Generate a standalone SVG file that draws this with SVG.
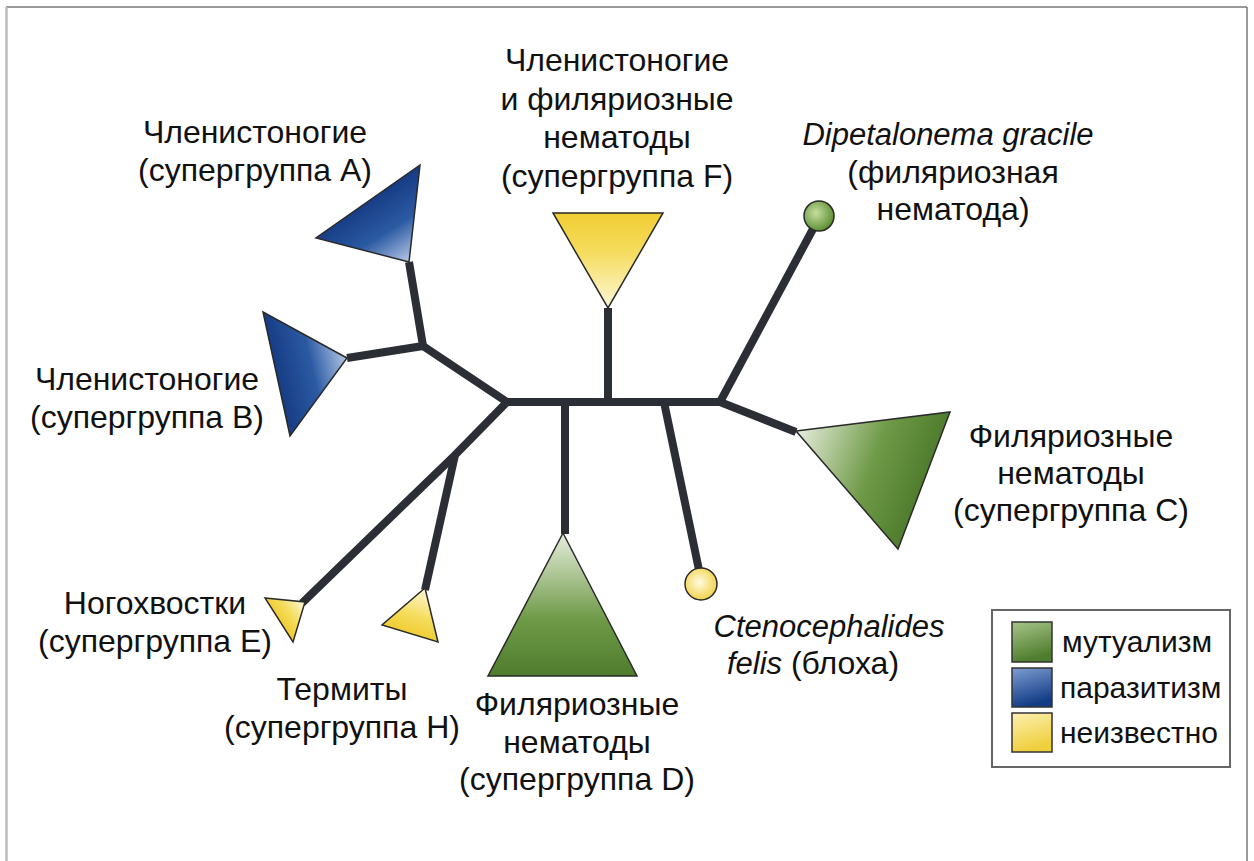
<svg xmlns="http://www.w3.org/2000/svg" width="1254" height="861" viewBox="0 0 1254 861">
<style>
.lbl{font-family:"Liberation Sans",Arial,sans-serif;font-size:32px;fill:#111;text-anchor:middle}
.leg{font-family:"Liberation Sans",Arial,sans-serif;font-size:30px;fill:#111}
.it{font-style:italic;font-size:31px}
.br{stroke:#2b2e35;stroke-width:8;fill:none;stroke-linejoin:round;stroke-linecap:butt}
.tri{stroke:#2a2a2a;stroke-width:1.5;stroke-linejoin:miter}
</style>
<defs>
<linearGradient id="gA" gradientUnits="userSpaceOnUse" x1="408" y1="262" x2="368" y2="200"><stop offset="0" stop-color="#b4c6e6"/><stop offset="0.5" stop-color="#2b5aa3"/><stop offset="1" stop-color="#163c84"/></linearGradient>
<linearGradient id="gB" gradientUnits="userSpaceOnUse" x1="347" y1="358" x2="276" y2="374"><stop offset="0" stop-color="#b4c6e6"/><stop offset="0.5" stop-color="#2b5aa3"/><stop offset="1" stop-color="#163c84"/></linearGradient>
<linearGradient id="gF" gradientUnits="userSpaceOnUse" x1="608" y1="308" x2="608" y2="213"><stop offset="0" stop-color="#fdf8d6"/><stop offset="0.6" stop-color="#f5dc5c"/><stop offset="1" stop-color="#f0cd34"/></linearGradient>
<linearGradient id="gD" gradientUnits="userSpaceOnUse" x1="563" y1="533" x2="563" y2="676"><stop offset="0" stop-color="#e7eedc"/><stop offset="0.6" stop-color="#6f9a48"/><stop offset="1" stop-color="#4f7d2d"/></linearGradient>
<linearGradient id="gC" gradientUnits="userSpaceOnUse" x1="796" y1="431" x2="925" y2="480"><stop offset="0" stop-color="#e7eedc"/><stop offset="0.6" stop-color="#6f9a48"/><stop offset="1" stop-color="#4f7d2d"/></linearGradient>
<linearGradient id="gE" gradientUnits="userSpaceOnUse" x1="304" y1="602" x2="279" y2="620"><stop offset="0" stop-color="#fdf8d6"/><stop offset="0.6" stop-color="#f5dc5c"/><stop offset="1" stop-color="#f0cd34"/></linearGradient>
<linearGradient id="gH" gradientUnits="userSpaceOnUse" x1="425" y1="589" x2="410" y2="634"><stop offset="0" stop-color="#fdf8d6"/><stop offset="0.6" stop-color="#f5dc5c"/><stop offset="1" stop-color="#f0cd34"/></linearGradient>
<radialGradient id="cG" cx="0.4" cy="0.4" r="0.6"><stop offset="0" stop-color="#c6dea0"/><stop offset="1" stop-color="#5f9135"/></radialGradient>
<radialGradient id="cY" cx="0.45" cy="0.45" r="0.6"><stop offset="0" stop-color="#fffbe0"/><stop offset="1" stop-color="#f0d040"/></radialGradient>
<linearGradient id="sG" x1="0" y1="0" x2="0.3" y2="1"><stop offset="0" stop-color="#a7c48a"/><stop offset="1" stop-color="#4e7d2d"/></linearGradient>
<linearGradient id="sB" x1="0" y1="0" x2="0.3" y2="1"><stop offset="0" stop-color="#7f9ed0"/><stop offset="1" stop-color="#123c86"/></linearGradient>
<linearGradient id="sY" x1="0" y1="0" x2="0.3" y2="1"><stop offset="0" stop-color="#fbf0b0"/><stop offset="1" stop-color="#f0cf3c"/></linearGradient>
</defs>
<rect width="1254" height="861" fill="#fff"/>
<g id="frame" fill="none">
<line x1="6" y1="7" x2="1247" y2="7" stroke="#777" stroke-width="1.5"/>
<line x1="6.5" y1="7" x2="6.5" y2="861" stroke="#bbb" stroke-width="2.5"/>
<line x1="1247" y1="7" x2="1247" y2="861" stroke="#777" stroke-width="1.5"/>
</g>
<g id="connectors" class="br">
<polyline points="507,402 720,402"/>
<polyline points="423,346 507,402"/>
<polyline points="409,262 423,346 347,358"/>
<polyline points="507,402 455,455 302,603"/>
<polyline points="455,455 425,590"/>
<polyline points="565,402 565,534"/>
<polyline points="608,402 608,308"/>
<polyline points="664,402 699,570"/>
<polyline points="720,402 813,229"/>
<polyline points="720,402 796,432"/>
</g>
<g id="triA"><polygon class="tri" points="409,262 316,238 420,165" fill="url(#gA)"/></g>
<g id="triB"><polygon class="tri" points="347,358 263,312 290,436" fill="url(#gB)"/></g>
<g id="triF"><polygon class="tri" points="553,213 663,213 608,308" fill="url(#gF)"/></g>
<g id="triD"><polygon class="tri" points="563,533 488,676 637,676" fill="url(#gD)"/></g>
<g id="triC"><polygon class="tri" points="796,431 950,412 898,549" fill="url(#gC)"/></g>
<g id="triE"><polygon class="tri" points="265,598 305,602 293,642" fill="url(#gE)"/></g>
<g id="triH"><polygon class="tri" points="425,588 382,625 438,642" fill="url(#gH)"/></g>
<g id="circDip"><circle cx="819" cy="216" r="15" fill="url(#cG)" stroke="#2a2a2a" stroke-width="1.5"/></g>
<g id="circCten"><circle cx="701" cy="584" r="16" fill="url(#cY)" stroke="#2a2a2a" stroke-width="1.5"/></g>
<g id="labelA"><text class="lbl" x="255" y="143">Членистоногие</text><text class="lbl" x="255" y="181">(супергруппа A)</text></g>
<g id="labelF"><text class="lbl" x="617" y="71">Членистоногие</text><text class="lbl" x="617" y="110">и филяриозные</text><text class="lbl" x="617" y="148">нематоды</text><text class="lbl" x="617" y="187">(супергруппа F)</text></g>
<g id="labelDip"><text class="lbl it" x="948" y="145">Dipetalonema gracile</text><text class="lbl" x="953" y="183">(филяриозная</text><text class="lbl" x="953" y="220">нематода)</text></g>
<g id="labelB"><text class="lbl" x="147" y="390">Членистоногие</text><text class="lbl" x="147" y="428">(супергруппа B)</text></g>
<g id="labelC"><text class="lbl" x="1071" y="447">Филяриозные</text><text class="lbl" x="1071" y="484">нематоды</text><text class="lbl" x="1071" y="521">(супергруппа C)</text></g>
<g id="labelE"><text class="lbl" x="155" y="614">Ногохвостки</text><text class="lbl" x="155" y="652">(супергруппа E)</text></g>
<g id="labelH"><text class="lbl" x="342" y="700">Термиты</text><text class="lbl" x="342" y="738">(супергруппа H)</text></g>
<g id="labelD"><text class="lbl" x="577" y="715">Филяриозные</text><text class="lbl" x="577" y="753">нематоды</text><text class="lbl" x="577" y="790">(супергруппа D)</text></g>
<g id="labelCten"><text class="lbl it" x="829" y="637">Ctenocephalides</text><text class="lbl" x="813" y="674"><tspan class="it">felis</tspan> (блоха)</text></g>
<g id="legend">
<rect x="992" y="610" width="238" height="157" fill="#fff" stroke="#666" stroke-width="2"/>
<rect x="1012" y="622" width="40" height="40" fill="url(#sG)" stroke="#333" stroke-width="1.5"/>
<rect x="1012" y="668" width="40" height="39" fill="url(#sB)" stroke="#333" stroke-width="1.5"/>
<rect x="1012" y="713" width="40" height="39" fill="url(#sY)" stroke="#333" stroke-width="1.5"/>
<text class="leg" x="1062" y="652">мутуализм</text>
<text class="leg" x="1060" y="698">паразитизм</text>
<text class="leg" x="1060" y="743">неизвестно</text>
</g>
</svg>
